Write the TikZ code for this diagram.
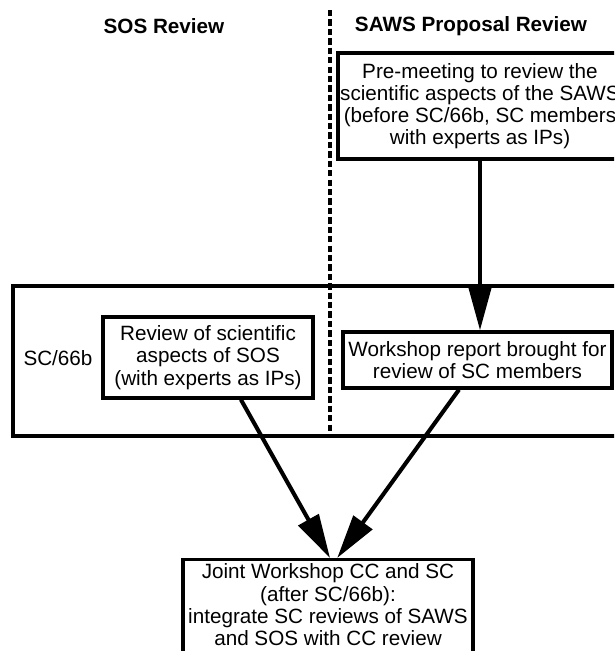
\documentclass[tikz,border=0pt]{standalone}
\usepackage{fontspec}
\setmainfont{Liberation Sans}
\usetikzlibrary{arrows.meta}

\begin{document}
\begin{tikzpicture}[x=0.025cm,y=-0.025cm,
        font=\fontsize{14.7}{15.8}\selectfont,
        task box/.style={draw,line width=2.3pt,align=center,inner xsep=0pt,inner ysep=3pt},
        head node/.style={font=\fontsize{14.7}{15.8}\selectfont\bfseries},
        flow edge/.style={line width=2.9pt,-{Triangle[length=1.1cm,width=0.57cm]}},
        column rule/.style={line width=2.2pt,dash pattern=on 4.5pt off 2.2pt}
      ]
      \clip (0,0) rectangle (614,651);

      % column headings and divider
      \node[head node] (soshead) at (164,26) {SOS Review};
      \node[head node] (sawshead) at (471,26) {SAWS Proposal Review};
      \coordinate (divtop) at (330,10);
      \coordinate (divbot) at (330,434);
      \draw[column rule,line width=2.2pt] (divtop) -- (divbot);

      % SC/66b meeting frame
      \node[task box,minimum width=16.2cm,minimum height=3.75cm] (sc66b) at (337,361) {};
      \node (sclabel) at (58,358) {SC/66b};

      \node[task box,minimum width=7.1cm,minimum height=2.65cm] (pre) at (480,106)
        {Pre-meeting to review the\\scientific aspects of the SAWS\\(before SC/66b, SC members\\with experts as IPs)};
      \node[task box,minimum width=5.25cm,minimum height=2.025cm] (review) at (208,357.5)
        {Review of scientific\\aspects of SOS\\(with experts as IPs)};
      \node[task box,minimum width=6.725cm,minimum height=1.4cm] (report) at (477.5,360)
        {Workshop report brought for\\review of SC members};
      \node[task box,minimum width=7.25cm,anchor=north,text depth=12pt] (joint) at (328,558)
        {Joint Workshop CC and SC\\(after SC/66b):\\integrate SC reviews of SAWS\\and SOS with CC review};

      % flow between steps
      \draw[flow edge] (pre.south) -- (pre.south |- report.north);
      \draw[flow edge] (review.-52) -- ([xshift=0.5mm]joint.north);
      \draw[flow edge] (report.-122) -- ([xshift=2.3mm]joint.north);
    \end{tikzpicture}
\end{document}
